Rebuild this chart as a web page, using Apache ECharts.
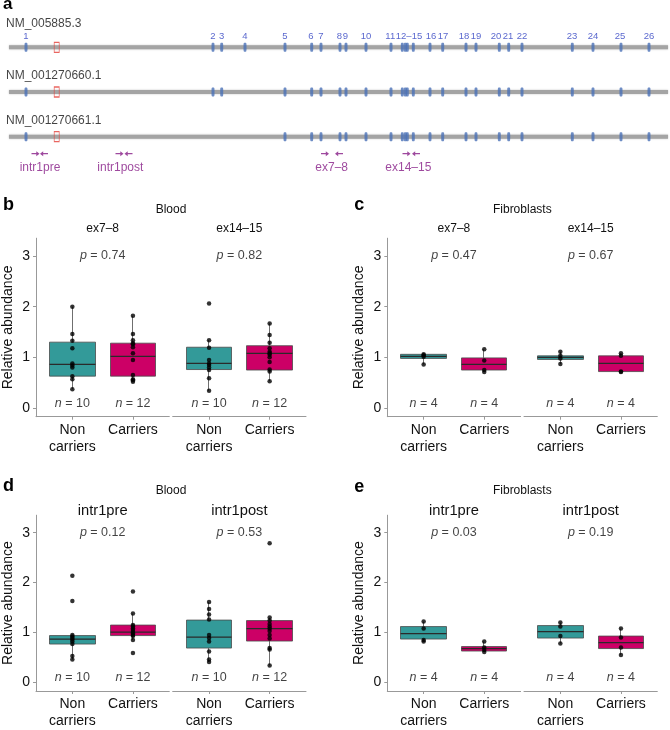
<!DOCTYPE html>
<html>
<head>
<meta charset="UTF-8">
<title>Relative abundance</title>
<style>
    html, body { margin: 0; padding: 0; background: #fff; }
    #chartArea { width: 670px; height: 730px; }
</style>
</head>
<body>
<div id="chartArea"></div>
<script src="https://cdn.jsdelivr.net/npm/echarts@6/dist/echarts.min.js"></script>
<script>
// ---------- panel a : transcript schematic ----------
var transcripts = ['NM_005885.3', 'NM_001270660.1', 'NM_001270661.1'];
var trackLength = 659;
var exonPos = [17, 204, 212.7, 236, 276, 302.7, 312, 331, 337, 357, 382, 393.3, 396.3, 398.3,
               404.3, 421, 433.7, 457, 467, 490.3, 499.7, 513, 563.3, 584, 612, 640];
var exonSkipped = [[], [4], [2, 3, 4]];           // exon numbers absent in each transcript
var exonLabels = ['1', '2', '3', '4', '5', '6', '7', '8', '9', '10', '11', '12\u201315',
                  '16', '17', '18', '19', '20', '21', '22', '23', '24', '25', '26'];
var exonLabelPos = [17, 204, 212.7, 236, 276, 302, 312, 330.5, 336.5, 357, 381.3, 400,
                    422, 434, 455, 467, 487, 499, 513, 563, 584, 611, 640];
var markerPos = 47.7;
var primerNames = ['intr1pre', 'intr1post', 'ex7\u20138', 'ex14\u201315'];
var primerFwd = [26.5, 110.5, 316, 397.5];
var primerRev = [35, 119.5, 330, 407];
var primerLabelPos = [31, 111.3, 322.7, 399.3];

// ---------- panels b-e : box plots ----------
var groups = ['Non\ncarriers', 'Carriers'];
var yTicks = [0, 1, 2, 3];
// box rows: [lower whisker, Q1, median, Q3, upper whisker]  (non carriers, carriers)
var bloodEx78Box   = [[0.37, 0.63, 0.86, 1.30, 2.00], [0.52, 0.63, 1.02, 1.28, 1.82]];
var bloodEx78Pts   = [[2.00, 1.46, 1.33, 1.18, 0.88, 0.84, 0.80, 0.63, 0.57, 0.37],
                      [1.82, 1.46, 1.34, 1.28, 1.26, 1.20, 1.08, 0.95, 0.65, 0.57, 0.55, 0.52]];
var bloodEx1415Box = [[0.34, 0.76, 0.88, 1.20, 1.34], [0.53, 0.75, 1.08, 1.23, 1.67]];
var bloodEx1415Pts = [[2.06, 1.34, 1.19, 0.95, 0.88, 0.85, 0.80, 0.75, 0.59, 0.34],
                      [1.67, 1.44, 1.29, 1.18, 1.11, 1.08, 1.05, 1.00, 0.91, 0.76, 0.72, 0.53]];
var fibroEx78Box   = [[0.86, 0.98, 1.02, 1.06, 1.06], [0.71, 0.75, 0.86, 0.99, 1.16]];
var fibroEx78Pts   = [[1.06, 1.04, 1.01, 0.86], [1.16, 0.94, 0.75, 0.71]];
var fibroEx1415Box = [[0.87, 0.96, 1.00, 1.03, 1.11], [0.71, 0.72, 0.88, 1.03, 1.08]];
var fibroEx1415Pts = [[1.11, 1.03, 0.98, 0.87], [1.08, 1.03, 0.72, 0.71]];
var bloodPreBox    = [[0.46, 0.77, 0.87, 0.94, 0.95], [0.85, 0.94, 1.01, 1.15, 1.38]];
var bloodPrePts    = [[2.14, 1.63, 0.95, 0.92, 0.89, 0.86, 0.82, 0.77, 0.53, 0.46],
                      [1.82, 1.38, 1.15, 1.12, 1.08, 1.05, 1.01, 0.98, 0.95, 0.93, 0.85, 0.59]];
var bloodPostBox   = [[0.41, 0.69, 0.91, 1.25, 1.61], [0.34, 0.83, 1.08, 1.24, 1.30]];
var bloodPostPts   = [[1.61, 1.47, 1.36, 1.26, 0.95, 0.89, 0.82, 0.62, 0.46, 0.41],
                      [2.79, 1.30, 1.24, 1.17, 1.12, 1.08, 1.03, 0.95, 0.88, 0.69, 0.66, 0.34]];
var fibroPreBox    = [[0.82, 0.87, 0.98, 1.12, 1.22], [0.61, 0.63, 0.68, 0.72, 0.82]];
var fibroPrePts    = [[1.22, 1.08, 0.85, 0.82], [0.82, 0.70, 0.65, 0.61]];
var fibroPostBox   = [[0.78, 0.89, 1.02, 1.14, 1.20], [0.55, 0.68, 0.80, 0.93, 1.08]];
var fibroPostPts   = [[1.20, 1.12, 0.93, 0.78], [1.08, 0.90, 0.70, 0.55]];

var pExonBlood = ['0.74', '0.82'];
var pExonFibro = ['0.47', '0.67'];
var pIntrBlood = ['0.12', '0.53'];
var pIntrFibro = ['0.03', '0.19'];
var nBlood = [10, 12];
var nFibro = [4, 4];

// ---------- layout / style ----------
var FONT = 'Liberation Sans';
var FILL = ['#339a99', '#cc0066'];
var EDGE = '#4a4a4a', MEDIAN = '#2a2a2a', AXIS = '#999999', PURPLE = '#861b86';
var SUB_W = 133.3, SUB_GAP = 3.4, GRID_H = 178.5, Y_MIN = -0.17, Y_MAX = 3.35;
var N_Y = 0.09;
var ARROW = 'path://M0,4.2L6,4.2L6,2L10,5L6,8L6,5.8L0,5.8Z';

var panels = [
    {letter: 'b', letterY: 205, tissue: 'Blood', axisX: 36, top: 238.2, tissueY: 210, ampY: 229, ampSize: 12,
     amps: ['ex7\u20138', 'ex14\u201315'], box: [bloodEx78Box, bloodEx1415Box], pts: [bloodEx78Pts, bloodEx1415Pts], p: pExonBlood, n: nBlood},
    {letter: 'c', letterY: 205, tissue: 'Fibroblasts', axisX: 387.3, top: 238.2, tissueY: 210, ampY: 229, ampSize: 12,
     amps: ['ex7\u20138', 'ex14\u201315'], box: [fibroEx78Box, fibroEx1415Box], pts: [fibroEx78Pts, fibroEx1415Pts], p: pExonFibro, n: nFibro},
    {letter: 'd', letterY: 486, tissue: 'Blood', axisX: 36, top: 515.2, tissueY: 491, ampY: 510.7, ampSize: 14.7,
     amps: ['intr1pre', 'intr1post'], box: [bloodPreBox, bloodPostBox], pts: [bloodPrePts, bloodPostPts], p: pIntrBlood, n: nBlood},
    {letter: 'e', letterY: 487, tissue: 'Fibroblasts', axisX: 387.3, top: 515.2, tissueY: 491, ampY: 510.7, ampSize: 14.7,
     amps: ['intr1pre', 'intr1post'], box: [fibroPreBox, fibroPostBox], pts: [fibroPrePts, fibroPostPts], p: pIntrFibro, n: nFibro}
];

var grids = [], xAxes = [], yAxes = [], series = [], texts = [];

function addText(str, x, y, size, align, extra) {
    texts.push({type: 'text', x: x, y: y, silent: true, style: Object.assign({
        text: str, fontFamily: FONT, fontSize: size, fill: '#111',
        textAlign: align, textVerticalAlign: 'middle'}, extra || {})});
}

// panel a
grids.push({left: 9, top: 25, width: trackLength, height: 134});
xAxes.push({type: 'value', gridIndex: 0, min: 0, max: trackLength, show: false});
yAxes.push({type: 'category', gridIndex: 0, data: transcripts, inverse: true, show: false});

transcripts.forEach(function (tx) {
    series.push({type: 'line', xAxisIndex: 0, yAxisIndex: 0, silent: true, symbol: 'none', z: 1,
        data: [[0, tx], [trackLength, tx]],
        lineStyle: {color: '#a4a4a4', width: 4, shadowColor: 'rgba(0,0,0,0.25)', shadowBlur: 2}});
});

var exonData = [];
transcripts.forEach(function (tx, t) {
    exonPos.forEach(function (p, e) {
        if (exonSkipped[t].indexOf(e + 1) < 0) exonData.push([p, tx]);
    });
});
series.push({type: 'scatter', xAxisIndex: 0, yAxisIndex: 0, silent: true, z: 3,
    symbol: 'roundRect', symbolSize: [3, 9], itemStyle: {color: '#4a70b6'}, data: exonData});
series.push({type: 'scatter', xAxisIndex: 0, yAxisIndex: 0, silent: true, z: 4,
    symbol: 'rect', symbolSize: [5, 10],
    itemStyle: {color: 'rgba(255,255,255,0)', borderColor: '#e3403a', borderWidth: 1},
    data: transcripts.map(function (tx) { return [markerPos, tx]; })});
series.push({type: 'scatter', xAxisIndex: 0, yAxisIndex: 0, silent: true, symbolSize: 0,
    data: transcripts.map(function (tx, t) {
        return {value: [0, tx], name: tx, label: {offset: [-3, t === 0 ? -24 : -16]}};
    }),
    label: {show: true, position: 'inside', align: 'left', formatter: '{b}',
        fontFamily: FONT, fontSize: 12, color: '#111'}});
series.push({type: 'scatter', xAxisIndex: 0, yAxisIndex: 0, silent: true, symbolSize: 0,
    data: exonLabels.map(function (l, i) { return {value: [exonLabelPos[i], transcripts[0]], name: l}; }),
    label: {show: true, position: 'inside', offset: [0, -11], formatter: '{b}',
        fontFamily: FONT, fontSize: 9.5, color: '#2d3fc0'}});
series.push({type: 'scatter', xAxisIndex: 0, yAxisIndex: 0, silent: true, z: 3,
    symbol: ARROW, symbolSize: [8, 5], symbolOffset: [0, 17], itemStyle: {color: PURPLE},
    data: primerFwd.map(function (p) { return [p, transcripts[2]]; })});
series.push({type: 'scatter', xAxisIndex: 0, yAxisIndex: 0, silent: true, z: 3,
    symbol: ARROW, symbolSize: [8, 5], symbolOffset: [0, 17], symbolRotate: 180, itemStyle: {color: PURPLE},
    data: primerRev.map(function (p) { return [p, transcripts[2]]; })});
series.push({type: 'scatter', xAxisIndex: 0, yAxisIndex: 0, silent: true, symbolSize: 0,
    data: primerNames.map(function (nm, i) { return {value: [primerLabelPos[i], transcripts[2]], name: nm}; }),
    label: {show: true, position: 'inside', offset: [0, 31], formatter: '{b}',
        fontFamily: FONT, fontSize: 12, color: PURPLE}});
addText('a', 3, 4, 17, 'left', {fontWeight: 'bold', fill: '#000'});

// panels b-e
panels.forEach(function (pn) {
    addText(pn.letter, pn.axisX - 33, pn.letterY, 18, 'left', {fontWeight: 'bold', fill: '#000'});
    addText(pn.tissue, pn.axisX + SUB_W + SUB_GAP / 2, pn.tissueY, 12, 'center');
    for (var k = 0; k < 2; k++) {
        var gi = grids.length;
        var left = pn.axisX + k * (SUB_W + SUB_GAP);
        addText(pn.amps[k], left + SUB_W / 2, pn.ampY, pn.ampSize, 'center');
        grids.push({left: left, top: pn.top, width: SUB_W, height: GRID_H});
        xAxes.push({type: 'value', gridIndex: gi, min: 0.4, max: 2.6,
            axisLine: {show: true, onZero: false, lineStyle: {color: AXIS, width: 1}},
            axisTick: {show: true, customValues: [1, 2], length: 3, lineStyle: {color: AXIS}},
            axisLabel: {customValues: [1, 2], margin: 5, fontFamily: FONT, fontSize: 14, lineHeight: 17, color: '#111',
                formatter: function (v) { return groups[Math.round(v) - 1]; }},
            splitLine: {show: false}});
        yAxes.push({type: 'value', gridIndex: gi, min: Y_MIN, max: Y_MAX, show: k === 0,
            axisLine: {show: true, onZero: false, lineStyle: {color: AXIS, width: 1}},
            axisTick: {show: true, customValues: yTicks, length: 3, lineStyle: {color: AXIS}},
            axisLabel: {customValues: yTicks, margin: 6, fontFamily: FONT, fontSize: 14, color: '#111'},
            splitLine: {show: false},
            name: k === 0 ? 'Relative abundance' : '', nameLocation: 'middle', nameGap: 21,
            nameTextStyle: {fontFamily: FONT, fontSize: 14, color: '#111'}});

        var box = pn.box[k], pts = pn.pts[k];
        box.forEach(function (b, g) {
            series.push({type: 'candlestick', xAxisIndex: gi, yAxisIndex: gi, silent: true, barWidth: 46, z: 2,
                data: [[g + 1, b[1], b[3], b[0], b[4]]],
                itemStyle: {color: FILL[g], color0: FILL[g], borderColor: EDGE, borderColor0: EDGE, borderWidth: 0.8}});
        });
        series.push({type: 'candlestick', xAxisIndex: gi, yAxisIndex: gi, silent: true, barWidth: 46, z: 3,
            data: box.map(function (b, g) { return [g + 1, b[2], b[2], b[2], b[2]]; }),
            itemStyle: {color: MEDIAN, color0: MEDIAN, borderColor: MEDIAN, borderColor0: MEDIAN,
                borderColorDoji: MEDIAN, borderWidth: 1.2}});
        var ptData = [];
        pts.forEach(function (arr, g) { arr.forEach(function (v) { ptData.push([g + 1, v]); }); });
        series.push({type: 'scatter', xAxisIndex: gi, yAxisIndex: gi, silent: true, z: 4,
            symbolSize: 4.5, itemStyle: {color: '#000'}, data: ptData});
        var rich = {i: {fontFamily: FONT, fontSize: 12.5, fontStyle: 'italic', color: '#111'},
                    t: {fontFamily: FONT, fontSize: 12.5, color: '#111'}};
        series.push({type: 'scatter', xAxisIndex: gi, yAxisIndex: gi, silent: true, symbolSize: 0, z: 5,
            data: [
                {value: [1.5, 3], name: '{i|p}{t| = ' + pn.p[k] + '}'},
                {value: [1, N_Y], name: '{i|n}{t| = ' + pn.n[0] + '}'},
                {value: [2, N_Y], name: '{i|n}{t| = ' + pn.n[1] + '}'}
            ],
            label: {show: true, position: 'inside', formatter: '{b}', rich: rich}});
    }
});

var myChart = echarts.init(document.getElementById('chartArea'));
myChart.setOption({
    animation: false,
    backgroundColor: '#fff',
    grid: grids,
    xAxis: xAxes,
    yAxis: yAxes,
    series: series,
    graphic: texts
});
</script>
</body>
</html>
